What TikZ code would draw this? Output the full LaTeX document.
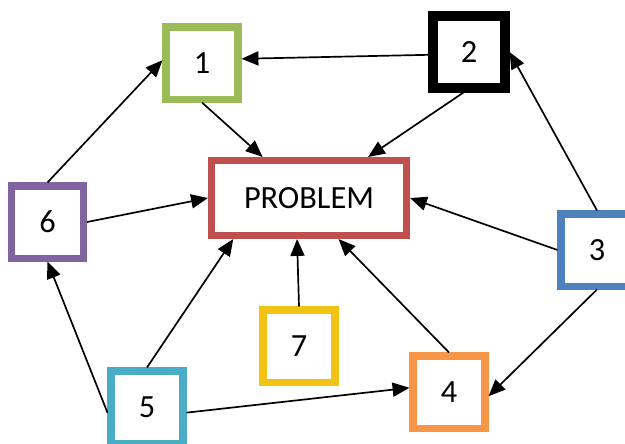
\documentclass[tikz,border=0pt]{standalone}
\usepackage{fontspec}
\setmainfont{Carlito}
\usepackage{tikz}
\usetikzlibrary{arrows.meta, positioning}
\usepackage{xcolor}
\definecolor{boxgreen}{HTML}{9BBB59}
\definecolor{boxred}{HTML}{C0504D}
\definecolor{boxpurple}{HTML}{8064A2}
\definecolor{boxblue}{HTML}{4F81BD}
\definecolor{boxyellow}{HTML}{F2C314}
\definecolor{boxcyan}{HTML}{4BACC6}
\definecolor{boxorange}{HTML}{F79646}
\tikzset{
  factor/.style={draw, line width=5pt, minimum width=1.8cm, minimum height=1.8cm,
    font=\fontsize{23}{27}\selectfont, inner sep=0pt},
  link/.style={->, line width=1.2pt}
}

\begin{document}
\begin{tikzpicture}[x=0.025cm, y=-0.025cm, >={Triangle[length=12pt, width=10pt]}]
        \useasboundingbox (0, 0) rectangle (625, 443);

        % Boxes
        \node[draw=boxred, line width=5pt, minimum width=4.875cm, minimum height=1.875cm,
          font=\fontsize{23}{27}\selectfont] (problem) at (309, 198) {PROBLEM};
        \node[factor, draw=boxgreen] (f1) at (202, 63) {1};
        \node[factor, draw=black, line width=6.5pt] (f2) at (469, 52) {2};
        \node[factor, draw=boxblue] (f3) at (597, 250) {3};
        \node[factor, draw=boxorange] (f4) at (449, 392) {4};
        \node[factor, draw=boxcyan] (f5) at (147, 407) {5};
        \node[factor, draw=boxpurple] (f6) at (47.5, 222) {6};
        \node[factor, draw=boxyellow] (f7) at (299, 346) {7};

        % Arrows into the problem
        \draw[link] (f1.south) -- ([xshift=-33pt]problem.north);
        \draw[link] ([xshift=-4pt]f2.south) -- ([xshift=42pt]problem.north);
        \draw[link] (f3.west) -- (problem.east);
        \draw[link] (f4.north) -- ([xshift=21pt]problem.south);
        \draw[link] (f5.north) -- ([xshift=18pt]problem.south west);
        \draw[link] (f6.east) -- (problem.west);
        \draw[link] (f7.north) -- ([xshift=-8.5pt]problem.south);

        % Arrows between the factors
        \draw[link] ([yshift=-2pt]f2.west) -- ([yshift=3pt]f1.east);
        \draw[link] (f6.north) -- ([yshift=2pt]f1.west);
        \draw[link] (f3.north) -- (f2.east);
        \draw[link] (f3.south) -- ([yshift=-3pt]f4.east);
        \draw[link] ([yshift=-4pt]f5.west) -- (f6.south);
        \draw[link] ([yshift=-4pt]f5.east) -- ([yshift=3pt]f4.west);

\end{tikzpicture}
\end{document}
